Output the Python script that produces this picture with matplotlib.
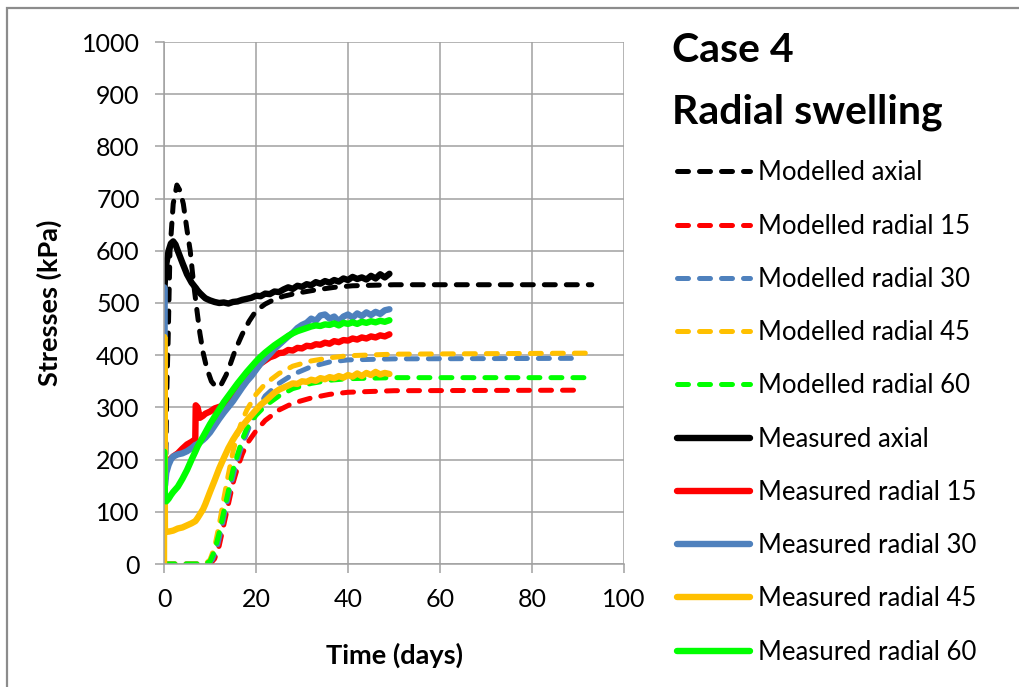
import matplotlib
matplotlib.use("Agg")
import matplotlib.pyplot as plt
from matplotlib.patches import Rectangle

plt.rcParams['font.family'] = ['Lato', 'DejaVu Sans']

# ---- Modelled stresses (kPa) ----
t_mod_axial = [0, 0.3, 0.6, 0.9, 1.3, 2, 2.8, 3.5, 4.2, 5, 5.7, 6.4, 7.1, 7.8, 8.5, 9.3,
               10.3, 11.4, 12.5, 13.5, 14.5, 15.5, 17, 18.5, 20, 22, 24, 26, 29, 33, 37,
               41, 50, 60, 70, 80, 93]
mod_axial = [0, 150, 330, 430, 600, 690, 726, 715, 690, 640, 600, 540, 490, 442, 405, 375,
             350, 338, 345, 362, 385, 410, 440, 465, 485, 498, 507, 513, 519, 525, 530,
             533, 535, 535, 535, 535, 535]

t_mod_r15 = [0, 10, 11, 12, 13, 14, 15, 16, 17, 18, 20, 22, 25, 28, 32, 36, 40, 50, 91]
mod_r15 = [0, 0, 10, 35, 75, 115, 155, 185, 210, 230, 255, 275, 295, 308, 318, 325, 329, 332, 333]

t_mod_r30 = [0, 9.5, 10.5, 11.5, 12.5, 13.5, 14.5, 15.5, 16.5, 17.5, 18.5, 20, 22, 25, 28, 32, 36, 40, 50, 90.5]
mod_r30 = [0, 0, 8, 30, 68, 110, 150, 185, 215, 240, 262, 292, 322, 346, 363, 378, 387, 391, 393, 394]

t_mod_r45 = [0, 9, 10, 11, 12, 13, 14, 15, 16, 17, 18, 20, 22, 25, 28, 32, 36, 40, 50, 92]
mod_r45 = [0, 0, 8, 32, 75, 125, 172, 215, 250, 275, 295, 325, 345, 365, 379, 389, 395, 399, 402, 404]

t_mod_r60 = [0, 9, 10, 11, 12, 13, 14, 15, 16, 17, 18, 20, 22, 25, 28, 32, 36, 40, 50, 92.5]
mod_r60 = [0, 0, 5, 25, 60, 100, 140, 180, 210, 238, 260, 285, 303, 322, 336, 346, 352, 355, 357, 357]

# ---- Measured stresses (kPa) ----
t_meas = [0, 0.05, 0.2, 0.5, 1, 1.5, 2, 2.5, 3, 4, 5, 6, 6.8, 6.9, 7.3, 7.8, 8.5, 9,
          10, 11, 12, 13, 14, 15, 16, 17, 18, 19, 20, 21, 22, 23, 24, 25, 26, 27, 28, 29,
          30, 31, 32, 33, 34, 35, 36, 37, 38, 39, 40, 41, 42, 43, 44, 45, 46, 47, 48, 49]

meas_axial = [500, 520, 545, 575, 600, 614, 618, 612, 600, 577, 555, 539, 530, 529, 524, 519, 513, 509,
              505, 502, 500, 501, 499, 502, 503, 506, 508, 510, 514, 513, 518, 517, 522, 521, 526, 530,
              527, 533, 531, 536, 534, 540, 537, 542, 539, 544, 541, 547, 544, 550, 546, 549, 545, 552,
              547, 555, 549, 556]

meas_r15 = [120, 150, 172, 188, 197, 202, 206, 209, 212, 221, 229, 234, 239, 304, 300, 280, 284, 288,
            292, 298, 301, 304, 312, 320, 333, 345, 357, 366, 375, 384, 390, 396, 399, 404, 405, 410,
            409, 414, 413, 418, 417, 421, 420, 424, 422, 427, 425, 429, 428, 432, 430, 434, 432, 436,
            434, 438, 436, 440]

meas_r30 = [435, 530, 150, 175, 190, 200, 206, 208, 210, 212, 216, 222, 228, 228, 230, 233, 238, 242,
            252, 265, 278, 290, 301, 312, 325, 338, 350, 360, 372, 384, 393, 402, 412, 420, 428, 436,
            443, 452, 458, 462, 470, 466, 476, 478, 470, 474, 465, 474, 478, 472, 480, 475, 482, 477,
            483, 479, 486, 488]

meas_r45 = [0, 435, 65, 62, 62, 63, 64, 66, 68, 70, 74, 78, 82, 83, 88, 95, 105, 115,
            138, 160, 183, 203, 222, 238, 252, 264, 275, 285, 295, 305, 312, 320, 328, 334, 338, 342,
            346, 345, 350, 349, 353, 351, 356, 354, 358, 356, 360, 357, 362, 359, 365, 360, 366, 362,
            368, 363, 366, 364]

meas_r60 = [215, 215, 122, 120, 125, 132, 138, 143, 148, 163, 180, 200, 215, 217, 225, 233, 244, 252,
            268, 282, 296, 310, 322, 334, 346, 357, 368, 378, 388, 397, 405, 412, 419, 425, 431, 437,
            442, 446, 449, 452, 455, 457, 456, 459, 458, 461, 457, 462, 460, 463, 460, 464, 462, 465,
            463, 466, 464, 467]

x_ticks = [0, 20, 40, 60, 80, 100]
y_ticks = [0, 100, 200, 300, 400, 500, 600, 700, 800, 900, 1000]

BLACK = '#000000'
RED = '#FF0000'
BLUE = '#4F81BD'
ORANGE = '#FFC000'
GREEN = '#00FF00'
GRID = '#A0A0A0'

fig = plt.figure(figsize=(10.2, 6.87), dpi=100)
ax = fig.add_axes([164 / 1020, 123 / 687, 460 / 1020, 522 / 687])

dash_kw = dict(lw=3.6, dashes=(2.2, 2.2), dash_capstyle='round')
solid_kw = dict(lw=4.6, solid_joinstyle='round', solid_capstyle='round')

ax.plot(t_mod_axial, mod_axial, color=BLACK, label='Modelled axial', **dash_kw)
ax.plot(t_mod_r15, mod_r15, color=RED, label='Modelled radial 15', **dash_kw)
ax.plot(t_mod_r30, mod_r30, color=BLUE, label='Modelled radial 30', **dash_kw)
ax.plot(t_mod_r45, mod_r45, color=ORANGE, label='Modelled radial 45', **dash_kw)
ax.plot(t_mod_r60, mod_r60, color=GREEN, label='Modelled radial 60', **dash_kw)
ax.plot(t_meas, meas_axial, color=BLACK, label='Measured axial', **solid_kw)
ax.plot(t_meas, meas_r15, color=RED, label='Measured radial 15', **solid_kw)
ax.plot(t_meas, meas_r30, color=BLUE, label='Measured radial 30', **solid_kw)
ax.plot(t_meas, meas_r45, color=ORANGE, label='Measured radial 45', **solid_kw)
ax.plot(t_meas, meas_r60, color=GREEN, label='Measured radial 60', **solid_kw)

ax.set_xlim(0, 100)
ax.set_ylim(0, 1000)
ax.set_xticks(x_ticks)
ax.set_yticks(y_ticks)
ax.grid(True, color=GRID, lw=1.1)
ax.set_axisbelow(True)
for side in ('top', 'right'):
    ax.spines[side].set_visible(False)
for side in ('left', 'bottom'):
    ax.spines[side].set_color(GRID)
    ax.spines[side].set_linewidth(1.1)
ax.tick_params(axis='both', direction='out', length=6.5, width=1.1, color=GRID,
               labelsize=18, labelcolor='#000000', pad=11)

ax.set_xlabel('Time (days)', fontsize=19.5, fontweight='bold', labelpad=22.5)
ax.set_ylabel('Stresses (kPa)', fontsize=19.5, fontweight='bold', labelpad=14)

fig.text(672 / 1020, 1 - 50 / 687, 'Case 4', fontsize=29.5, fontweight='bold',
         va='center', ha='left')
fig.text(672 / 1020, 1 - 112 / 687, 'Radial swelling', fontsize=29.5, fontweight='bold',
         va='center', ha='left')

handles, labels = ax.get_legend_handles_labels()
fig.legend(handles, labels, loc='upper left', bbox_to_anchor=(667 / 1020, 1 - 150 / 687),
           frameon=False, fontsize=18.5, handlelength=2.84, handletextpad=0.31,
           labelspacing=1.10, borderaxespad=0)

# grey frame around the figure
fig.patches.append(Rectangle((7 / 1020, -0.5), 2.0, 1.5 - 8 / 687, transform=fig.transFigure,
                             fill=False, edgecolor='#8C8C8C', lw=1.6))

fig.savefig('out.png', dpi=100)
